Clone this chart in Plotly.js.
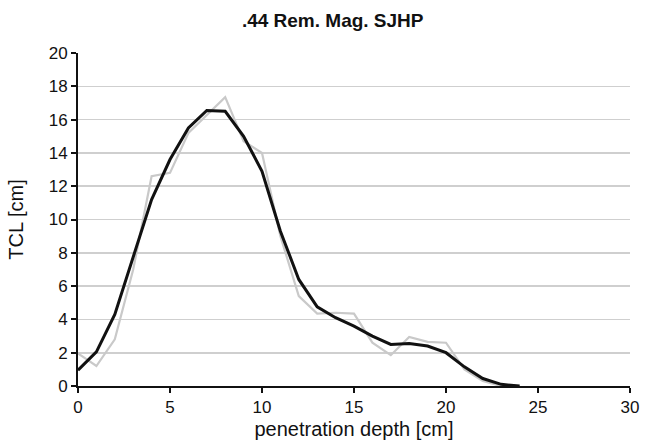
<!DOCTYPE html>
<html>
<head>
<meta charset="utf-8">
<script src="https://cdn.plot.ly/plotly-3.0.1.min.js"></script>
<style>html,body{margin:0;padding:0;background:#fff;}#chart{width:646px;height:448px;}</style>
</head>
<body>
<div id="chart"></div>
<script>
const depth = [0,1,2,3,4,5,6,7,8,9,10,11,12,13,14,15,16,17,18,19,20,21,22,23,24];
const meanTCL = [0.95,2.05,4.3,7.7,11.2,13.6,15.5,16.55,16.5,15.0,12.9,9.3,6.4,4.75,4.1,3.6,3.0,2.5,2.55,2.4,2.0,1.15,0.45,0.1,0];
const rawTCL = [1.95,1.2,2.8,7.0,12.6,12.8,15.2,16.3,17.35,14.7,14.0,9.0,5.4,4.35,4.4,4.35,2.6,1.85,2.95,2.65,2.6,1.0,0.3,0.0,0.0];
const xTicks = [0,5,10,15,20,25,30];
const yTicks = [0,2,4,6,8,10,12,14,16,18,20];

const font = "Liberation Sans, Arial, sans-serif";
const traces = [
  {x: depth, y: rawTCL, type: 'scatter', mode: 'lines', line: {color: '#c9c9c9', width: 2.2}, hoverinfo: 'skip'},
  {x: depth, y: meanTCL, type: 'scatter', mode: 'lines', line: {color: '#111111', width: 3}}
];
const layout = {
  width: 646, height: 448,
  margin: {l: 78, r: 16, t: 53, b: 62},
  paper_bgcolor: '#ffffff', plot_bgcolor: '#ffffff',
  showlegend: false,
  font: {family: font, color: '#111111', size: 18},
  title: {text: '<b>.44 Rem. Mag. SJHP</b>', font: {family: font, size: 19, color: '#111'}, x: 0.515, xanchor: 'center', xref: 'container', y: 0.955, yanchor: 'middle', yref: 'container'},
  xaxis: {
    range: [0, 30], tickvals: xTicks, ticktext: xTicks.map(String),
    showgrid: false, zeroline: false,
    showline: true, linecolor: '#111', linewidth: 2,
    ticks: 'outside', ticklen: 5, tickwidth: 2, tickcolor: '#111',
    tickfont: {size: 17, family: font},
    title: {text: 'penetration depth [cm]', font: {size: 20, family: font}, standoff: 6}
  },
  yaxis: {
    range: [0, 20], tickvals: yTicks, ticktext: yTicks.map(String),
    showgrid: true, gridcolor: '#cfcfcf', gridwidth: 1.6, zeroline: false,
    showline: true, linecolor: '#111', linewidth: 2,
    ticks: 'outside', ticklen: 5, tickwidth: 2, tickcolor: '#111',
    tickfont: {size: 17, family: font},
    title: {text: 'TCL [cm]', font: {size: 20, family: font}, standoff: 20}
  }
};
Plotly.newPlot('chart', traces, layout, {staticPlot: true, displayModeBar: false});
</script>
</body>
</html>
